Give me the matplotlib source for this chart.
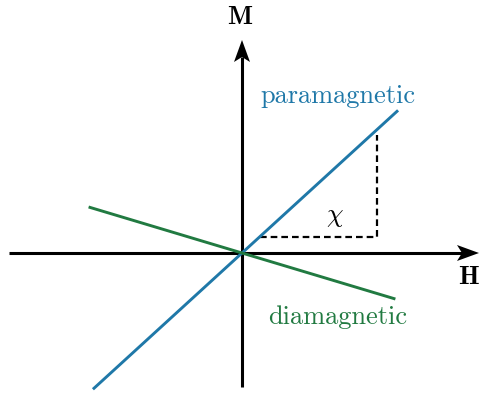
import matplotlib
matplotlib.use("Agg")
import matplotlib.pyplot as plt
from matplotlib.patches import Polygon

plt.rcParams["mathtext.fontset"] = "cm"

# susceptibilities (slope of M vs H) and the H range each line covers
series_names = ["paramagnetic", "diamagnetic"]
chi_values = [0.914, -0.30]
h_start = [-148, -152]
h_end = [155, 152]
line_colors = ["#1f78a8", "#217a41"]

# where the slope triangle sits on the paramagnetic line
chi_level = 16
chi_corner = 135
chi_top = 118

W, H = 479, 393
ox, oy = 242, 253  # origin position in pixels

fig = plt.figure(figsize=(W / 100, H / 100), dpi=100)
ax = fig.add_axes([0, 0, 1, 1])
ax.set_xlim(-ox, W - ox)
ax.set_ylim(oy - H, oy)
ax.axis("off")

# axes with stealth-style arrow heads
x_left, x_tip = -233, 237
y_bottom, y_tip = -134, 213
head_len, head_half, head_notch = 22, 8, 5
lw_axis = 2.2

ax.plot([x_left, x_tip - head_len + head_notch], [0, 0], color="k", lw=lw_axis,
        solid_capstyle="butt", zorder=3)
ax.plot([0, 0], [y_bottom, y_tip - head_len + head_notch], color="k", lw=lw_axis,
        solid_capstyle="butt", zorder=3)
ax.add_patch(Polygon([(x_tip, 0), (x_tip - head_len, head_half),
                      (x_tip - head_len + head_notch, 0),
                      (x_tip - head_len, -head_half)],
                     closed=True, color="k", lw=0, zorder=3))
ax.add_patch(Polygon([(0, y_tip), (head_half, y_tip - head_len),
                      (0, y_tip - head_len + head_notch),
                      (-head_half, y_tip - head_len)],
                     closed=True, color="k", lw=0, zorder=3))

# M(H) lines
for chi, x0, x1, c in zip(chi_values, h_start, h_end, line_colors):
    ax.plot([x0, x1], [chi * x0, chi * x1], color=c, lw=2.1, zorder=4)

# slope triangle
dash = (0, (3, 1.8))
ax.plot([chi_level / chi_values[0], chi_corner, chi_corner],
        [chi_level, chi_level, chi_top], color="k", lw=1.6, ls=dash, zorder=2)

ax.text(93, 37, r"$\chi$", fontsize=19, ha="center", va="center")
ax.text(96, 157, series_names[0], fontsize=19, family="cmr10",
        color=line_colors[0], ha="center", va="center")
ax.text(96, -64, series_names[1], fontsize=19, family="cmr10",
        color=line_colors[1], ha="center", va="center")
ax.text(-2, 235, "M", fontsize=19, family="cmb10", ha="center", va="center")
ax.text(226, -24, "H", fontsize=19, family="cmb10", ha="center", va="center")

fig.savefig("out.png", dpi=100)
